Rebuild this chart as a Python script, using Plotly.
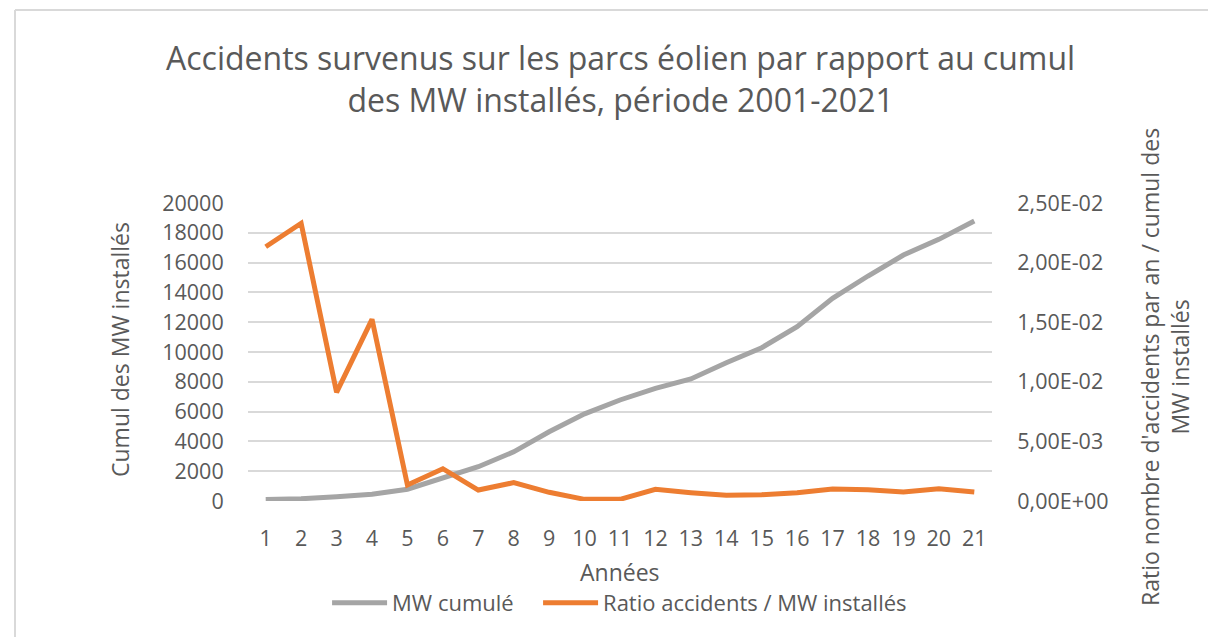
import plotly.graph_objects as go

# Years of the period (1 = 2001 ... 21 = 2021)
annees = [str(i) for i in range(1, 22)]

# Cumulative installed wind capacity (MW)
mw_cumule = [100, 150, 290, 450, 790, 1560, 2300, 3300, 4650, 5850, 6780,
             7560, 8190, 9280, 10290, 11700, 13600, 15100, 16510, 17560, 18790]

# Accidents per year divided by cumulative installed MW
ratio_accidents = [0.02133, 0.02330, 0.00912, 0.01524, 0.00134, 0.00271, 0.00092,
                   0.00154, 0.00073, 0.00014, 0.00014, 0.00098, 0.00070, 0.00048,
                   0.00053, 0.00070, 0.00101, 0.00095, 0.00076, 0.00103, 0.00076]

left_ticks = [0, 2000, 4000, 6000, 8000, 10000, 12000, 14000, 16000, 18000, 20000]
right_ticks = [0, 0.005, 0.01, 0.015, 0.02, 0.025]
right_ticktext = ["0,00E+00", "5,00E-03", "1,00E-02", "1,50E-02", "2,00E-02", "2,50E-02"]

TXT = "#595959"
FONT = "Open Sans"
TICK = 21.5
AXT = 23
W, H = 1208, 637
L, R, T, B = 248, 216, 203, 136
PW, PH = W - L - R, H - T - B


def px(x):
    return (x - L) / PW


def py(y):
    return (H - B - y) / PH


fig = go.Figure()
fig.add_trace(go.Scatter(x=annees, y=mw_cumule, name="MW cumulé", mode="lines",
                         legend="legend",
                         line=dict(color="#A5A5A5", width=5)))
fig.add_trace(go.Scatter(x=annees, y=ratio_accidents, name="Ratio accidents / MW installés",
                         mode="lines", yaxis="y2", legend="legend2",
                         line=dict(color="#ED7D31", width=5)))

legend_style = dict(orientation="h", xanchor="left", yanchor="middle", y=py(603),
                    font=dict(size=22, color=TXT), itemwidth=55,
                    bgcolor="rgba(0,0,0,0)")

fig.update_layout(
    width=W, height=H,
    margin=dict(l=L, r=R, t=T, b=B),
    paper_bgcolor="white", plot_bgcolor="white",
    font=dict(family=FONT, color=TXT, size=20),
    showlegend=True,
    legend=dict(x=px(336) - 0.012, **legend_style),
    legend2=dict(x=px(547) - 0.012, **legend_style),
    xaxis=dict(type="category", range=[-0.5, 20.5], showgrid=False, zeroline=False,
               showline=False, ticks="outside", ticklen=18,
               tickcolor="rgba(0,0,0,0)", tickfont=dict(size=TICK, color=TXT)),
    yaxis=dict(range=[0, 20000], tickvals=left_ticks, tickformat="d",
               showgrid=True, gridcolor="#D9D9D9", gridwidth=2, zeroline=False,
               showline=False, ticks="outside", ticklen=19,
               tickcolor="rgba(0,0,0,0)", tickfont=dict(size=TICK, color=TXT)),
    yaxis2=dict(range=[0, 0.025], tickvals=right_ticks, ticktext=right_ticktext,
                overlaying="y", side="right", showgrid=False, zeroline=False,
                showline=False, ticks="outside", ticklen=20,
                tickcolor="rgba(0,0,0,0)", tickfont=dict(size=TICK, color=TXT)),
)

# Titles
fig.add_annotation(text="Accidents survenus sur les parcs éolien par rapport au cumul<br>"
                        "des MW installés, période 2001-2021",
                   xref="paper", yref="paper", x=0.5, y=py(78), xanchor="center",
                   yanchor="middle", showarrow=False,
                   font=dict(size=32, color=TXT, family=FONT))
fig.add_annotation(text="Années", xref="paper", yref="paper", x=0.5, y=py(572),
                   xanchor="center", yanchor="middle", showarrow=False,
                   font=dict(size=AXT, color=TXT))
fig.add_annotation(text="Cumul des MW installés", xref="paper", yref="paper",
                   x=px(120), y=py(350), xanchor="center", yanchor="middle",
                   textangle=-90, showarrow=False, font=dict(size=AXT, color=TXT))
fig.add_annotation(text="Ratio nombre d'accidents par an / cumul des<br>MW installés",
                   xref="paper", yref="paper", x=px(1165), y=py(367),
                   xanchor="center", yanchor="middle", textangle=-90,
                   showarrow=False, font=dict(size=AXT, color=TXT))

# Chart frame
fig.add_shape(type="line", xref="paper", yref="paper", x0=px(15), x1=px(15),
              y0=py(10), y1=py(660), line=dict(color="#D9D9D9", width=2))
fig.add_shape(type="line", xref="paper", yref="paper", x0=px(15), x1=px(1230),
              y0=py(10), y1=py(10), line=dict(color="#D9D9D9", width=2))

fig.write_html("out.html")
